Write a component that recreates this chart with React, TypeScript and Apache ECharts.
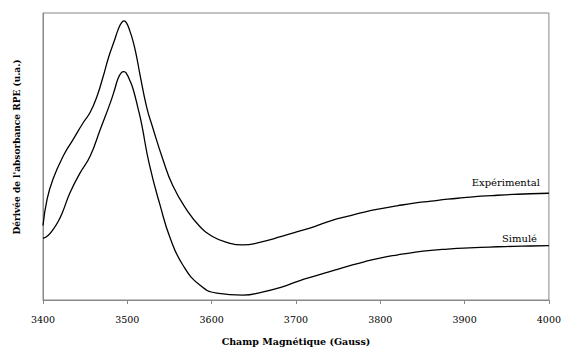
import React, { useEffect, useRef } from "react";
import * as echarts from "echarts";

// Magnetic field (Gauss) and signal (arbitrary units) for each curve
const expField = [3400, 3405, 3412, 3424, 3436, 3448, 3456, 3464, 3471, 3478, 3485, 3489, 3493, 3496, 3499, 3503, 3507, 3511, 3515, 3523, 3530, 3542, 3554, 3571, 3586, 3601, 3618, 3637, 3657, 3683, 3703, 3722, 3742, 3762, 3781, 3801, 3821, 3840, 3860, 3880, 3899, 3919, 3939, 3958, 3978, 4000];
const expValue = [75, 102, 122, 145, 162, 179, 189, 205, 224, 245, 262, 272, 279, 281, 279, 271, 260, 245, 227, 194, 174, 142, 115, 90, 74, 64, 58, 55.5, 58, 64, 69, 74, 80, 84.5, 88.5, 92, 95, 97.5, 99.5, 101.5, 103, 104.5, 105.5, 106.3, 107, 107.5];

const simField = [3400, 3406, 3412, 3418, 3423, 3432, 3444, 3456, 3468, 3480, 3485, 3489, 3493, 3496, 3499, 3503, 3507, 3513, 3517, 3526, 3539, 3551, 3566, 3586, 3606, 3637, 3660, 3683, 3703, 3722, 3742, 3762, 3781, 3801, 3821, 3840, 3860, 3880, 3899, 3919, 3939, 3958, 3978, 4000];
const simValue = [62, 65, 71, 79, 88, 108, 128, 145, 172, 199, 212, 223, 229, 230, 228, 221, 212, 192, 177, 137, 95, 62, 35, 15, 7, 5, 8, 13, 19, 24, 29, 34, 38.5, 42.5, 45.5, 48, 50, 51.3, 52.3, 53, 53.6, 54, 54.4, 54.7];

const xTicks = { min: 3400, max: 4000, interval: 100 };
const seriesNames = ["Expérimental", "Simulé"];
const xTitle = "Champ Magnétique (Gauss)";
const yTitle = "Dérivée de l'absorbance RPE (u.a.)";

const FONT = "DejaVu Serif";
const GRAY = "#888888";

export default function App() {
  const ref = useRef<HTMLDivElement>(null);
  useEffect(() => {
    if (!ref.current) return;
    const chart = echarts.init(ref.current, undefined, { renderer: "svg" });
    const zip = (xs: number[], ys: number[]) => xs.map((x, i) => [x, ys[i]]);
    chart.setOption({
      animation: false,
      backgroundColor: "#ffffff",
      textStyle: { fontFamily: FONT },
      grid: { left: 43, right: 14, top: 13, bottom: 49, show: true, borderColor: GRAY, borderWidth: 1, backgroundColor: "transparent" },
      xAxis: {
        type: "value",
        min: xTicks.min,
        max: xTicks.max,
        interval: xTicks.interval,
        name: xTitle,
        nameLocation: "middle",
        nameGap: 36,
        nameTextStyle: { fontFamily: FONT, fontWeight: "bold", fontSize: 9.5, color: "#000" },
        axisLine: { show: true, lineStyle: { color: GRAY, width: 1 } },
        axisTick: { show: true, inside: false, length: 4, lineStyle: { color: GRAY } },
        axisLabel: { margin: 14, fontFamily: FONT, fontSize: 9.5, color: "#000", formatter: (v: number) => String(v) },
        splitLine: { show: false },
      },
      yAxis: {
        type: "value",
        min: 0,
        max: 289,
        axisLine: { show: true, lineStyle: { color: GRAY, width: 1 } },
        axisTick: { show: false },
        axisLabel: { show: false },
        splitLine: { show: false },
      },
      graphic: [
        {
          type: "text",
          x: 17,
          y: 147,
          rotation: Math.PI / 2,
          style: { text: yTitle, fontFamily: FONT, fontWeight: "bold", fontSize: 9, fill: "#000", align: "center", verticalAlign: "middle" },
        },
        {
          type: "text",
          x: 540,
          y: 182,
          style: { text: seriesNames[0], fontFamily: FONT, fontSize: 10, fill: "#000", align: "right", verticalAlign: "middle" },
        },
        {
          type: "text",
          x: 537,
          y: 238,
          style: { text: seriesNames[1], fontFamily: FONT, fontSize: 10, fill: "#000", align: "right", verticalAlign: "middle" },
        },
      ],
      series: [
        {
          name: seriesNames[0],
          type: "line",
          data: zip(expField, expValue),
          smooth: 0.5,
          showSymbol: false,
          symbol: "none",
          lineStyle: { color: "#000", width: 1.3 },
        },
        {
          name: seriesNames[1],
          type: "line",
          data: zip(simField, simValue),
          smooth: 0.5,
          showSymbol: false,
          symbol: "none",
          lineStyle: { color: "#000", width: 1.3 },
        },
      ],
    });
    return () => chart.dispose();
  }, []);
  return <div ref={ref} style={{ width: 564, height: 351, position: "absolute", left: 0, top: 0 }} />;
}
